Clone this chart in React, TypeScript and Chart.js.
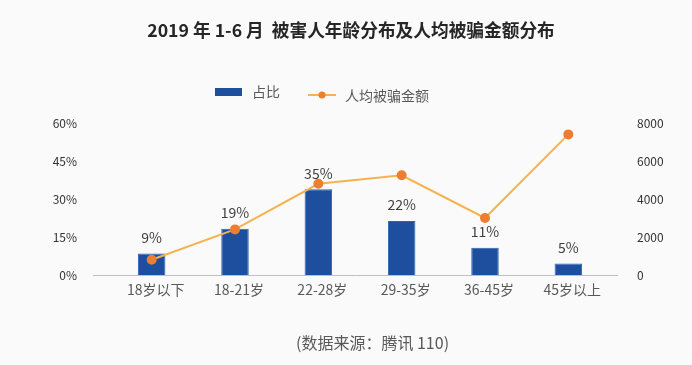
import React, { useEffect, useRef } from "react";
import { Chart, registerables } from "chart.js";

Chart.register(...registerables);

const categories = ["18岁以下", "18-21岁", "22-28岁", "29-35岁", "36-45岁", "45岁以上"];
const shareValues = [8.5, 18.3, 33.8, 21.3, 10.8, 4.5];
const shareLabels = ["9%", "19%", "35%", "22%", "11%", "5%"];
const amountValues = [800, 2400, 4800, 5250, 3000, 7400];
const shareMax = 60;
const shareStep = 15;
const amountMax = 8000;
const amountStep = 2000;
const titleText = "2019 年 1-6 月  被害人年龄分布及人均被骗金额分布";
const legendBarText = "占比";
const legendLineText = "人均被骗金额";
const sourceText = "(数据来源：腾讯 110)";

const FONT = '"Noto Sans CJK SC", "Noto Sans", sans-serif';
const BAR_COLOR = "#1d4f9e";
const BAR_BORDER = "#2d62b5";
const LINE_COLOR = "#f5b24e";
const POINT_COLOR = "#ed7d31";

const decorPlugin = {
  id: "decor",
  beforeDatasetsDraw(chart: any) {
    const { ctx, chartArea } = chart;
    ctx.save();
    ctx.strokeStyle = "#bfbfbf";
    ctx.lineWidth = 1;
    ctx.beginPath();
    ctx.moveTo(chartArea.left - 17, chartArea.bottom + 0.5);
    ctx.lineTo(chartArea.right + 8, chartArea.bottom + 0.5);
    ctx.stroke();
    ctx.restore();
  },
  afterDatasetsDraw(chart: any) {
    const { ctx } = chart;
    ctx.save();
    // bar value labels
    const meta = chart.getDatasetMeta(0);
    ctx.fillStyle = "#404040";
    ctx.font = `14px ${FONT}`;
    ctx.textAlign = "center";
    ctx.textBaseline = "middle";
    meta.data.forEach((el: any, i: number) => {
      ctx.fillText(shareLabels[i], el.x, el.y - 16);
    });
    // title
    ctx.fillStyle = "#262626";
    ctx.font = `bold 17.7px ${FONT}`;
    ctx.fillText(titleText, 351, 30);
    // legend
    ctx.fillStyle = BAR_COLOR;
    ctx.fillRect(215, 88, 27, 8);
    ctx.fillStyle = "#595959";
    ctx.font = `14px ${FONT}`;
    ctx.textAlign = "left";
    ctx.fillText(legendBarText, 252, 92);
    ctx.strokeStyle = LINE_COLOR;
    ctx.lineWidth = 2;
    ctx.beginPath();
    ctx.moveTo(308, 95);
    ctx.lineTo(336, 95);
    ctx.stroke();
    ctx.fillStyle = POINT_COLOR;
    ctx.beginPath();
    ctx.arc(322, 95, 3.5, 0, Math.PI * 2);
    ctx.fill();
    ctx.fillStyle = "#595959";
    ctx.fillText(legendLineText, 345, 96);
    // source
    ctx.font = `16px ${FONT}`;
    ctx.fillText(sourceText, 296, 343);
    ctx.restore();
  },
};

export default function App() {
  const canvasRef = useRef<HTMLCanvasElement | null>(null);

  useEffect(() => {
    document.body.style.margin = "0";
    document.body.style.background = "#fafafa";
    const canvas = canvasRef.current;
    if (!canvas) return;
    const chart = new Chart(canvas, {
      type: "bar",
      data: {
        labels: categories,
        datasets: [
          {
            type: "bar",
            label: legendBarText,
            data: shareValues,
            backgroundColor: BAR_COLOR,
            borderColor: BAR_BORDER,
            borderWidth: 1,
            yAxisID: "y",
            barPercentage: 0.33,
            categoryPercentage: 1,
            order: 2,
          },
          {
            type: "line",
            label: legendLineText,
            data: amountValues,
            borderColor: LINE_COLOR,
            borderWidth: 2,
            pointBackgroundColor: POINT_COLOR,
            pointBorderColor: POINT_COLOR,
            pointRadius: 4,
            tension: 0,
            yAxisID: "y1",
            order: 1,
          },
        ],
      },
      options: {
        responsive: false,
        animation: false,
        layout: { padding: { top: 123, bottom: 60, left: 0, right: 0 } },
        plugins: {
          legend: { display: false },
          title: { display: false },
          tooltip: { enabled: false },
        },
        scales: {
          x: {
            grid: { display: false, drawTicks: false },
            border: { display: false },
            ticks: {
              color: "#595959",
              font: { family: FONT, size: 14 },
              padding: 6,
              labelOffset: 4,
              maxRotation: 0,
            },
            afterFit: (s: any) => {
              s.height = 30;
            },
          },
          y: {
            position: "left",
            min: 0,
            max: shareMax,
            grid: { display: false, drawTicks: false },
            border: { display: false },
            ticks: {
              stepSize: shareStep,
              color: "#333333",
              font: { family: FONT, size: 12 },
              padding: 33,
              callback: (v: any) => `${v}%`,
            },
            afterFit: (s: any) => {
              s.width = 110;
            },
          },
          y1: {
            position: "right",
            min: 0,
            max: amountMax,
            grid: { display: false, drawTicks: false },
            border: { display: false },
            ticks: {
              stepSize: amountStep,
              color: "#333333",
              font: { family: FONT, size: 12 },
              padding: 27,
              callback: (v: any) => `${v}`,
            },
            afterFit: (s: any) => {
              s.width = 82;
            },
          },
        },
      },
      plugins: [decorPlugin],
    } as any);
    return () => chart.destroy();
  }, []);

  return (
    <div style={{ position: "absolute", left: 0, top: 0, width: 692, height: 365, background: "#fafafa" }}>
      <canvas ref={canvasRef} width={692} height={365} style={{ width: 692, height: 365 }} />
    </div>
  );
}
